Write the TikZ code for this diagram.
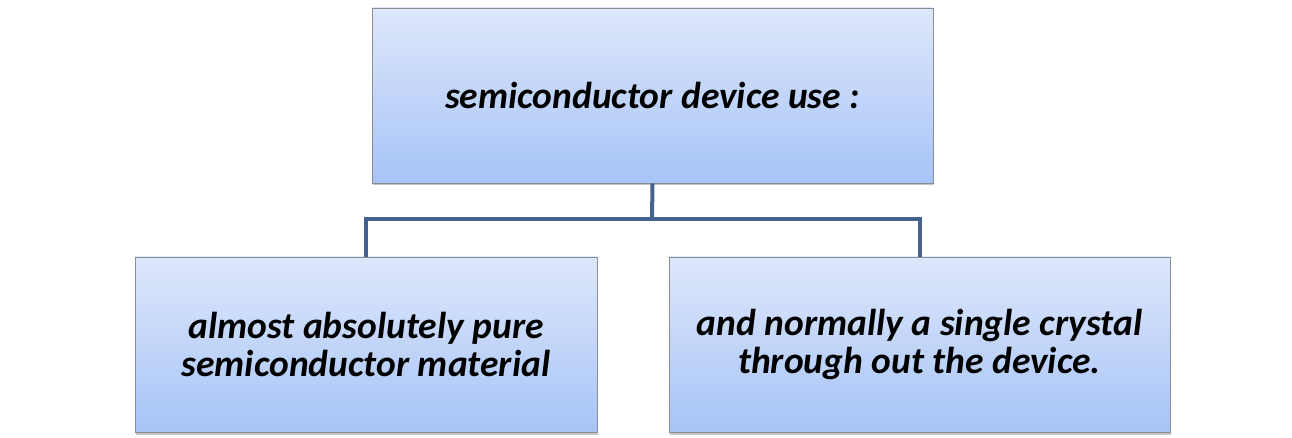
\documentclass[tikz,border=0pt]{standalone}
\usepackage{fontspec}
\setmainfont{Carlito}
\usetikzlibrary{shadows}
\definecolor{boxtop}{RGB}{222,231,251}
\definecolor{boxbot}{RGB}{166,196,247}
\definecolor{boxedge}{RGB}{140,140,145}
\definecolor{linkblue}{RGB}{68,98,140}
\tikzset{
  card/.style={draw=boxedge, line width=0.8pt, top color=boxtop, bottom color=boxbot,
    minimum height=175pt, align=center, inner sep=0pt,
    font=\fontsize{37.5}{38}\selectfont\bfseries\itshape,
    drop shadow={shadow xshift=1pt, shadow yshift=-2.5pt, fill=black!45, opacity=0.5}},
  link/.style={draw=linkblue, line width=4pt}
}
\begin{document}
\begin{tikzpicture}[x=1pt,y=-1pt]
  \useasboundingbox[fill=white] (0,0) rectangle (1292,438);
  \node[card, minimum width=561pt] (top) at (652.5,95.5) {semiconductor device use :};
  \node[card, minimum width=462pt] (left) at (366,344.5) {almost absolutely pure\\semiconductor material};
  \node[card, minimum width=501pt] (right) at (919.5,344.5) {and normally a single crystal\\through out the device.};
  \coordinate (mid) at (652,219);
  \draw[link] (top.south) -- (mid);
  \draw[link] (left.north) |- (mid) -| (right.north);
\end{tikzpicture}
\end{document}
